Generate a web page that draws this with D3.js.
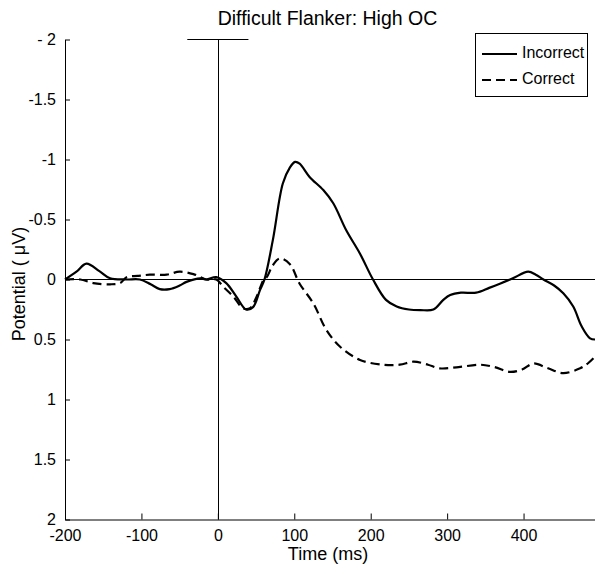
<!DOCTYPE html>
<html>
<head>
<meta charset="utf-8">
<script src="https://cdn.jsdelivr.net/npm/d3@7"></script>
<style>
  html, body { margin: 0; padding: 0; background: #fff; }
  svg { display: block; }
  text { font-family: "Liberation Sans", Arial, Helvetica, sans-serif; fill: #000; }
</style>
</head>
<body>
<svg id="chart" width="595" height="574"></svg>
<script>
// ---- data ----
const titleText = "Difficult Flanker: High OC";
const xLabelText = "Time (ms)";
const yLabelText = "Potential ( μV)";
const seriesNames = ["Incorrect", "Correct"];

const xTicks = [-200, -100, 0, 100, 200, 300, 400];
const xTickLabels = ["-200", "-100", "0", "100", "200", "300", "400"];
const yTicks = [-2, -1.5, -1, -0.5, 0, 0.5, 1, 1.5, 2];
const yTickLabels = ["- 2", "-1.5", "-1", "-0.5", "0", "0.5", "1", "1.5", "2"];

const incorrectTimes = [-200, -185, -172, -155, -141, -120, -102, -88, -76, -63, -50, -41, -23, -15, -2, 11, 24, 37, 46, 55, 61, 72, 85, 94, 101, 107, 120, 138, 151, 168, 186, 203, 220, 234, 250, 265, 282, 295, 304, 318, 338, 355, 369, 386, 406, 416, 426, 440, 452, 465, 476, 487, 494];
const incorrectValues = [0, -0.065, -0.133, -0.07, -0.01, 0.0, 0.0, 0.04, 0.08, 0.08, 0.05, 0.02, -0.01, 0.0, -0.02, 0.03, 0.14, 0.25, 0.23, 0.09, 0.0, -0.33, -0.80, -0.93, -0.98, -0.965, -0.855, -0.745, -0.635, -0.41, -0.215, 0.0, 0.17, 0.225, 0.25, 0.255, 0.25, 0.17, 0.13, 0.11, 0.11, 0.07, 0.035, -0.01, -0.065, -0.04, 0.0, 0.05, 0.115, 0.225, 0.39, 0.49, 0.50];

const correctTimes = [-200, -180, -163, -141, -128, -119, -105, -89, -67, -50, -32, -15, -2, 7, 20, 33, 42, 51, 60, 64, 72, 81, 94, 107, 125, 142, 160, 186, 216, 238, 256, 275, 290, 315, 343, 362, 382, 398, 413, 432, 452, 474, 484, 494];
const correctValues = [0, 0.0, 0.03, 0.04, 0.03, -0.02, -0.03, -0.04, -0.04, -0.065, -0.045, 0.0, 0.0, 0.06, 0.14, 0.24, 0.24, 0.14, 0.0, -0.02, -0.12, -0.175, -0.13, 0.035, 0.20, 0.42, 0.56, 0.67, 0.71, 0.71, 0.685, 0.71, 0.74, 0.73, 0.71, 0.73, 0.77, 0.75, 0.70, 0.74, 0.78, 0.74, 0.70, 0.64];

const stimulusTime = 0;
const stimulusBar = [-40, 40];

// ---- layout ----
const svg = d3.select("#chart");
const x = d3.scaleLinear().domain([-200, 494]).range([65, 595.4]);
const y = d3.scaleLinear().domain([-2, 2]).range([39.5, 519.5]);

const incorrect = incorrectTimes.map((t, i) => [t, incorrectValues[i]]);
const correct = correctTimes.map((t, i) => [t, correctValues[i]]);

// zero line
svg.append("line")
  .attr("x1", x(-200)).attr("x2", x(494))
  .attr("y1", y(0)).attr("y2", y(0))
  .attr("stroke", "#000").attr("stroke-width", 1);

// stimulus marker
svg.append("line")
  .attr("x1", Math.round(x(stimulusTime)) + 0.5).attr("x2", Math.round(x(stimulusTime)) + 0.5)
  .attr("y1", y(-2)).attr("y2", y(2))
  .attr("stroke", "#000").attr("stroke-width", 1);
svg.append("line")
  .attr("x1", x(stimulusBar[0])).attr("x2", x(stimulusBar[1]))
  .attr("y1", y(-2)).attr("y2", y(-2))
  .attr("stroke", "#000").attr("stroke-width", 1.2);

// axes
const xAxis = d3.axisBottom(x).tickValues(xTicks).tickFormat((d, i) => xTickLabels[i])
  .tickSizeInner(-6).tickSizeOuter(0).tickPadding(13);
const gx = svg.append("g").attr("transform", `translate(0,${y(2)})`).call(xAxis);
gx.select(".domain").attr("stroke", "#000");
gx.selectAll(".tick line").attr("stroke", "#000");
gx.selectAll(".tick text").attr("font-size", 16).attr("font-family", "Liberation Sans, Arial, sans-serif").attr("dy", "0.55em");

const yAxis = d3.axisLeft(y).tickValues(yTicks).tickFormat((d, i) => yTickLabels[i]).tickSizeInner(-5).tickSizeOuter(0).tickPadding(9);
const gy = svg.append("g").attr("transform", `translate(${x(-200)},0)`).call(yAxis);
gy.select(".domain").attr("stroke", "#000");
gy.selectAll(".tick line").attr("stroke", "#000");
gy.selectAll(".tick text").attr("font-size", 16).attr("font-family", "Liberation Sans, Arial, sans-serif");

// lines
const line = d3.line().x(d => x(d[0])).y(d => y(d[1])).curve(d3.curveCatmullRom.alpha(0.5));
svg.append("path").datum(incorrect).attr("d", line)
  .attr("fill", "none").attr("stroke", "#000").attr("stroke-width", 2.2).attr("stroke-linejoin", "round");
svg.append("path").datum(correct).attr("d", line)
  .attr("fill", "none").attr("stroke", "#000").attr("stroke-width", 2.2).attr("stroke-dasharray", "9,5");

// title & labels
svg.append("text").attr("x", 327.5).attr("y", 25).attr("text-anchor", "middle")
  .attr("font-size", 19.5).text(titleText);
svg.append("text").attr("x", 328).attr("y", 560).attr("text-anchor", "middle")
  .attr("font-size", 18).text(xLabelText);
svg.append("text").attr("transform", "translate(25,284) rotate(-90)").attr("text-anchor", "middle")
  .attr("font-size", 18).text(yLabelText);

// legend
const lg = svg.append("g");
lg.append("rect").attr("x", 475.5).attr("y", 33.5).attr("width", 112).attr("height", 63)
  .attr("fill", "#fff").attr("stroke", "#000").attr("stroke-width", 1);
const legendRows = [
  { name: seriesNames[0], dash: null, base: 58 },
  { name: seriesNames[1], dash: "9,5", base: 84 }
];
legendRows.forEach(r => {
  lg.append("line").attr("x1", 482).attr("x2", 517).attr("y1", r.base - 4).attr("y2", r.base - 4)
    .attr("stroke", "#000").attr("stroke-width", 2.2).attr("stroke-dasharray", r.dash);
  lg.append("text").attr("x", 522).attr("y", r.base).attr("font-size", 16).text(r.name);
});
</script>
</body>
</html>
